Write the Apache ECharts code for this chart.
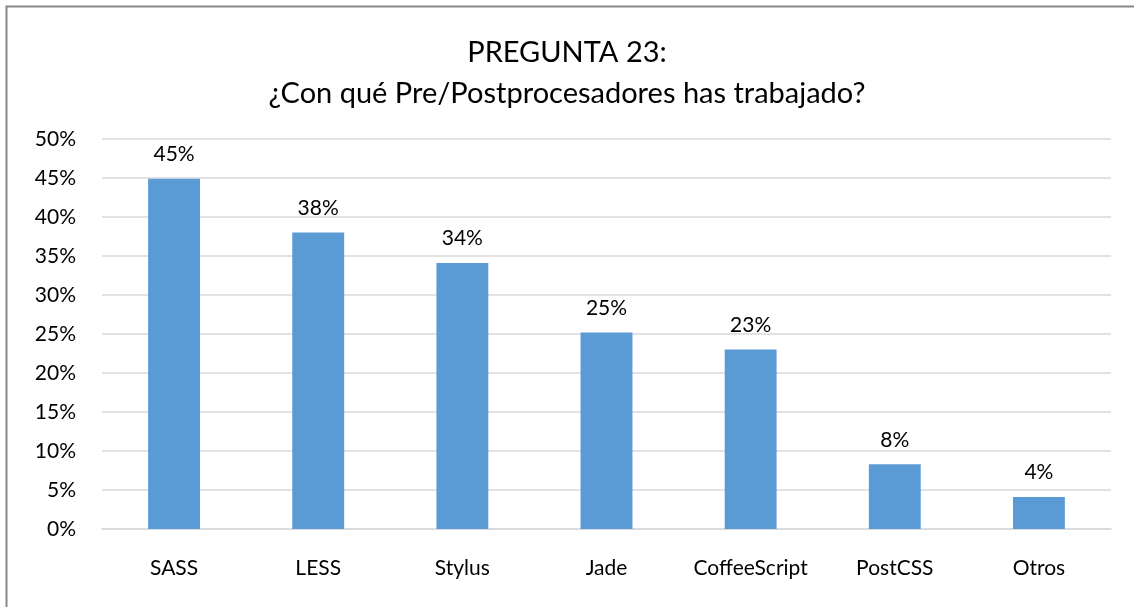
<!DOCTYPE html>
<html>
<head>
<meta charset="utf-8">
<script src="https://cdn.jsdelivr.net/npm/echarts@6/dist/echarts.min.js"></script>
<style>
  html, body { margin: 0; padding: 0; background: #fff; }
  #chart { width: 1134px; height: 607px; }
</style>
</head>
<body>
<div id="chart"></div>
<script>
var categories = ['SASS', 'LESS', 'Stylus', 'Jade', 'CoffeeScript', 'PostCSS', 'Otros'];
var values = [44.9, 38.0, 34.1, 25.2, 23.0, 8.3, 4.1];
var labels = ['45%', '38%', '34%', '25%', '23%', '8%', '4%'];

var myChart = echarts.init(document.getElementById('chart'));
var font = 'Lato, "Open Sans", sans-serif';

var option = {
  animation: false,
  textStyle: { fontFamily: font },
  title: {
    text: 'PREGUNTA 23:\n¿Con qué Pre/Postprocesadores has trabajado?',
    left: 'center',
    top: 27,
    textStyle: { fontFamily: font, fontSize: 29, fontWeight: 'normal', color: '#000', lineHeight: 41 }
  },
  graphic: [{
    type: 'rect',
    shape: { x: 6.5, y: 6.5, width: 1140, height: 620 },
    style: { fill: 'none', stroke: '#888', lineWidth: 2 },
    silent: true
  }],
  grid: { left: 102, right: 23, top: 139, bottom: 78 },
  xAxis: {
    type: 'category',
    data: categories,
    axisTick: { show: false },
    axisLine: { show: true, lineStyle: { color: '#d9d9d9', width: 1.5 } },
    axisLabel: { interval: 0, color: '#000', fontSize: 21, margin: 29, fontFamily: font }
  },
  yAxis: {
    type: 'value',
    min: 0,
    max: 50,
    interval: 5,
    axisLine: { show: false },
    axisTick: { show: false },
    axisLabel: { formatter: '{value}%', color: '#000', fontSize: 21, margin: 26, fontFamily: font },
    splitLine: { lineStyle: { color: '#d9d9d9', width: 1.5 } }
  },
  series: [{
    type: 'bar',
    data: values,
    barWidth: '36%',
    itemStyle: { color: '#5b9bd5' },
    label: {
      show: true,
      position: 'top',
      distance: 14,
      color: '#000',
      fontSize: 21,
      fontFamily: font,
      formatter: function (p) { return labels[p.dataIndex]; }
    }
  }]
};
myChart.setOption(option);
</script>
</body>
</html>
